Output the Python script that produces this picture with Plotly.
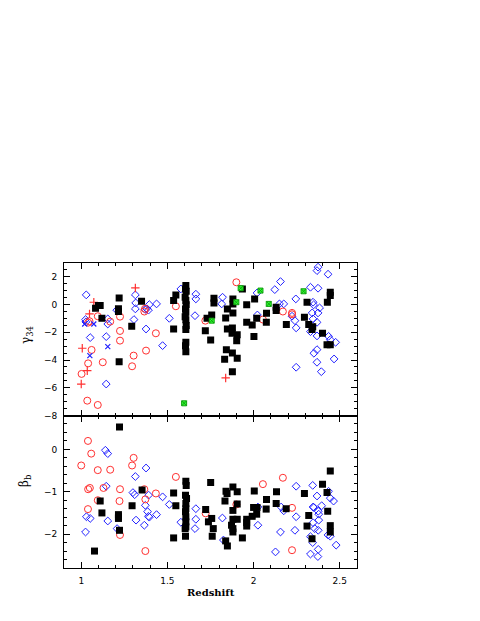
import plotly.graph_objects as go

# ---------------- data: top panel (gamma_34 vs redshift) ----------------
top_sq_z = [1.083, 1.100, 1.110, 1.120, 1.220, 1.216, 1.216, 1.220, 1.293, 1.350, 1.536, 1.536, 1.549,
            1.607, 1.605, 1.609, 1.603, 1.607, 1.609, 1.605, 1.607, 1.603, 1.607, 1.609, 1.607, 1.607, 1.605, 1.607,
            1.730, 1.757, 1.720, 1.751, 1.770, 1.770, 1.848, 1.838, 1.848, 1.877, 1.875, 1.905, 1.902, 1.842,
            1.877, 1.832, 1.905, 1.877, 1.880, 1.880, 1.880, 1.935, 1.960, 1.960, 1.992, 2.002, 2.006, 2.018,
            2.074, 2.075, 2.131, 2.131, 2.190, 2.310, 2.295, 2.320, 2.339, 2.343, 2.400, 2.426, 2.445, 2.445,
            2.445, 2.428]
top_sq_g = [-0.26, -0.07, -0.07, -0.99, 0.48, -0.30, -0.50, -4.12, -1.56, 0.24, -1.76, 0.29, 0.70,
            1.37, 1.13, 0.96, 0.53, 0.29, -0.02, -0.31, -0.55, -0.87, -1.10, -1.50, -1.80, -2.72, -2.96, -3.40,
            -0.99, -0.75, -1.88, -2.55, 0.46, 0.12, -0.31, -0.96, -1.76, -1.68, -2.07, -2.17, -2.60, -3.25,
            -3.49, -3.95, -3.87, -4.84, 0.41, 0.05, -0.60, 1.13, -0.02, -1.28, -1.47, -2.31, 0.41, -0.99,
            -1.28, -0.63, -0.19, -0.43, -1.44, 0.17, -0.91, -1.44, -1.80, -1.59, -2.07, -2.89, -2.89, 0.89,
            0.65, 0.17]

top_dia_z = [1.029, 1.025, 1.027, 1.154, 1.154, 1.052, 1.145, 1.206, 1.306, 1.314, 1.316, 1.314, 1.370,
             1.380, 1.390, 1.395, 1.376, 1.437, 1.472, 1.511, 1.578, 1.665, 1.665, 1.660, 1.145, 1.820,
             1.815, 2.020, 2.022, 2.123, 2.156, 2.150, 2.175, 2.223, 2.245, 2.240, 2.247, 2.247, 2.330,
             2.374, 2.345, 2.348, 2.383, 2.340, 2.374, 2.345, 2.368, 2.330, 2.368, 2.368, 2.350, 2.368,
             2.393, 2.374, 2.368, 2.432, 2.435, 2.445, 2.476, 2.467]
top_dia_g = [0.70, -1.08, -1.25, -1.03, -1.40, -2.38, -2.31, -0.40, -1.08, 0.70, 0.12, -0.31, -0.35,
             -0.30, -0.40, 0.00, -1.76, 0.05, -2.96, -0.99, 1.13, 0.75, 0.41, -0.80, -5.73, 0.53,
             0.05, 0.84, -0.75, 1.08, 1.66, 0.05, 0.05, -0.84, 0.41, -1.16, -1.68, -4.52, 1.25,
             1.18, 0.17, -0.02, -0.24, -0.60, -0.60, -1.03, -1.28, -1.95, -2.26, -3.25, -3.51, -4.16,
             -4.84, 2.70, 2.45, 2.19, -2.29, -2.53, -2.72, -3.92]

top_circ_z = [1.096, 1.040, 1.048, 1.168, 1.225, 1.225, 1.225, 1.060, 1.040, 1.002, 1.035, 1.096, 1.125,
              1.304, 1.295, 1.366, 1.370, 1.376, 1.433, 1.549, 1.720, 1.900, 2.054, 2.170, 2.223, 2.223]
top_circ_g = [-0.84, -1.30, -1.20, -1.23, -1.90, -2.60, -0.87, -3.27, -4.24, -5.00, -6.93, -7.24, -4.16,
              -3.68, -4.45, -0.50, -0.30, -3.32, -2.07, -0.12, -1.16, 1.61, -1.08, -0.50, -0.60, -0.70]

top_plus_z = [1.073, 1.048, 1.006, 1.035, 1.000, 1.314, 1.838]
top_plus_g = [0.17, -0.67, -3.15, -4.77, -5.73, 1.20, -5.29]

top_x_z = [1.020, 1.073, 1.050, 1.154]
top_x_g = [-1.40, -1.40, -3.68, -3.03]

top_green_z = [1.597, 1.757, 1.900, 1.925, 2.040, 2.088, 2.290]
top_green_g = [-7.12, -1.16, 0.17, 1.18, 1.01, 0.05, 0.96]

# ---------------- data: bottom panel (beta_b vs redshift) ----------------
bot_sq_z = [1.222, 1.353, 1.536, 1.549, 1.110, 1.295, 1.120, 1.216, 1.216, 1.216, 1.222, 1.077, 1.536,
            1.607, 1.609, 1.605, 1.611, 1.607, 1.607, 1.605, 1.607, 1.607, 1.607, 1.603, 1.605,
            1.722, 1.751, 1.757, 1.738, 1.766, 1.760, 1.838, 1.848, 1.834, 1.840, 1.846, 1.880, 1.905,
            1.905, 1.880, 1.880, 1.905, 1.872, 1.880, 1.880, 1.935, 1.960, 1.960, 1.960, 1.992, 2.004,
            2.000, 2.020, 2.018, 2.075, 2.073, 2.133, 2.131, 2.189, 2.295, 2.320, 2.310, 2.339, 2.400,
            2.426, 2.445, 2.430, 2.445, 2.445]
bot_sq_b = [0.53, -0.96, -1.03, -1.33, -1.22, -1.33, -1.50, -1.54, -1.59, -1.63, -1.91, -2.40, -2.09,
            -0.75, -0.85, -1.08, -1.16, -1.28, -1.40, -1.47, -1.59, -1.71, -1.83, -1.87, -2.05,
            -1.42, -0.78, -1.63, -1.71, -1.87, -2.05, -2.16, -2.28, -1.22, -0.99, -1.04, -0.89, -1.00,
            -1.29, -1.44, -1.65, -1.65, -1.79, -1.87, -1.95, -2.09, -1.65, -1.73, -1.81, -1.58, -0.98,
            -1.37, -1.37, -1.53, -1.18, -1.41, -1.00, -1.28, -1.40, -1.04, -1.56, -1.81, -2.11, -0.82,
            -1.02, -0.51, -1.46, -1.80, -1.95]

bot_dia_z = [1.140, 1.154, 1.376, 1.314, 1.145, 1.300, 1.310, 1.391, 1.472, 1.511, 1.372, 1.385, 1.390,
             1.395, 1.437, 1.030, 1.052, 1.154, 1.318, 1.366, 1.025, 1.208, 1.578, 1.665, 1.665, 1.660,
             1.819, 1.825, 2.025, 2.025, 2.160, 2.175, 2.247, 2.247, 2.240, 2.156, 2.127, 2.343, 2.368,
             2.345, 2.350, 2.375, 2.378, 2.378, 2.345, 2.355, 2.375, 2.330, 2.343, 2.375, 2.330, 2.373,
             2.395, 2.435, 2.445, 2.464, 2.432, 2.445, 2.479]
bot_dia_b = [-0.02, -0.10, -0.44, -0.64, -0.87, -1.02, -1.07, -1.08, -1.12, -1.30, -1.32, -1.47, -1.58,
             -1.60, -1.54, -1.59, -1.63, -1.69, -1.67, -1.79, -1.95, -1.87, -1.72, -1.40, -1.65, -1.87,
             -1.62, -2.14, -1.36, -1.79, -1.36, -1.45, -0.87, -1.59, -1.91, -1.95, -2.42, -0.85, -1.10,
             -1.36, -1.37, -1.46, -1.53, -1.67, -1.73, -1.87, -1.91, -2.06, -2.20, -2.36, -2.47, -2.53,
             -1.33, -0.99, -1.15, -1.22, -2.02, -2.05, -2.26]

bot_circ_z = [1.039, 1.058, 1.000, 1.096, 1.168, 1.304, 1.295, 1.549, 1.040, 1.050, 1.129, 1.225, 1.366,
              1.372, 1.433, 1.096, 1.222, 1.039, 1.225, 1.372, 1.722, 1.900, 2.054, 2.170, 2.223, 2.223]
bot_circ_b = [0.20, -0.10, -0.38, -0.49, -0.48, -0.20, -0.38, -0.65, -0.94, -0.91, -0.91, -0.94, -0.94,
              -1.18, -1.04, -1.20, -1.22, -1.41, -2.02, -2.40, -1.51, -1.30, -0.82, -0.67, -1.38, -2.38]

BLACK, BLUE, RED, GREEN = "#000000", "#2020ff", "#ff3030", "#30ff30"

fig = go.Figure()


def add(xs, ys, yax, symbol, color, size, lw=1.0, line=None):
    m = dict(symbol=symbol, size=size, color=color,
             line=dict(color=line if line else color, width=lw))
    fig.add_trace(go.Scatter(x=xs, y=ys, mode="markers", marker=m,
                             xaxis="x" if yax == "y" else "x2", yaxis=yax,
                             showlegend=False, hoverinfo="skip"))


# top panel
add(top_dia_z, top_dia_g, "y", "diamond-open", BLUE, 6, lw=1)
add(top_circ_z, top_circ_g, "y", "circle-open", RED, 7, lw=1)
add(top_plus_z, top_plus_g, "y", "cross-thin", RED, 6, lw=1.2)
add(top_x_z, top_x_g, "y", "x-thin", BLUE, 5, lw=1.2)
add(top_sq_z, top_sq_g, "y", "square", BLACK, 7, lw=0)
add(top_green_z, top_green_g, "y", "square-x", GREEN, 5, lw=1, line="#10a010")
# bottom panel
add(bot_dia_z, bot_dia_b, "y2", "diamond-open", BLUE, 6, lw=1)
add(bot_circ_z, bot_circ_b, "y2", "circle-open", RED, 7, lw=1)
add(bot_sq_z, bot_sq_b, "y2", "square", BLACK, 7, lw=0)

FONT = dict(family="DejaVu Sans", size=9, color="black")
common = dict(showline=True, linecolor="black", linewidth=1, mirror="allticks",
              ticks="inside", ticklen=6, tickwidth=1, tickcolor="black",
              showgrid=False, zeroline=False, tickfont=FONT)

# plot-area geometry (screen px incl. 8px page margin)
L, T, W, H = 56, 255, 293, 305
FX0, FY0 = L + 8, T + 8          # frame top-left in screenshot


def px(xs):
    return (xs - FX0) / W


def py(ys):
    return (FY0 + H - ys) / H


fig.update_layout(
    width=480, height=621,
    margin=dict(l=L, r=480 - L - W, t=T, b=621 - T - H),
    paper_bgcolor="white", plot_bgcolor="white",
    xaxis=dict(domain=[0, 1], range=[0.9, 2.6], anchor="y", showticklabels=False,
               tick0=1, dtick=0.5, minor=dict(dtick=0.1, ticklen=3, ticks="inside", tickcolor="black"),
               **common),
    yaxis=dict(domain=[0.5, 1], range=[-8, 3], anchor="x", tick0=0, dtick=2,
               minor=dict(dtick=0.5, ticklen=3, ticks="inside", tickcolor="black"),
               ticklabelstandoff=4, **common),
    xaxis2=dict(domain=[0, 1], range=[0.9, 2.6], anchor="y2",
                tickvals=[1, 1.5, 2, 2.5], ticktext=["1", "1.5", "2", "2.5"],
                minor=dict(dtick=0.1, tick0=1, ticklen=3, ticks="inside", tickcolor="black"),
                ticklabelstandoff=4, **common),
    yaxis2=dict(domain=[0, 0.5], range=[-2.8, 0.8], anchor="x2", tick0=0, dtick=1,
                minor=dict(dtick=0.2, tick0=0, ticklen=3, ticks="inside", tickcolor="black"),
                ticklabelstandoff=4, **common),
    annotations=[
        dict(text="γ<sub>34</sub>", textangle=-90, xref="paper", yref="paper",
             x=px(27), y=py(335), xanchor="center", yanchor="middle", showarrow=False,
             font=dict(family="DejaVu Serif", size=12, color="black")),
        dict(text="β<sub>b</sub>", textangle=-90, xref="paper", yref="paper",
             x=px(25), y=py(481), xanchor="center", yanchor="middle", showarrow=False,
             font=dict(family="DejaVu Serif", size=12, color="black")),
        dict(text="<b>Redshift</b>", xref="paper", yref="paper", x=px(211),
             y=py(592), xanchor="center", yanchor="middle", showarrow=False,
             font=dict(family="DejaVu Serif", size=10, color="black")),
    ],
)

fig.write_html("out.html")
